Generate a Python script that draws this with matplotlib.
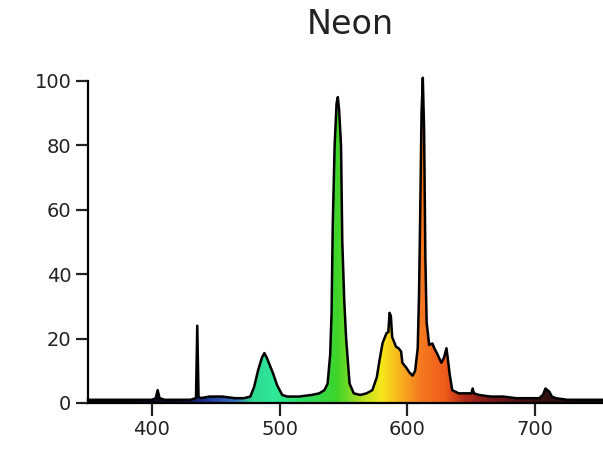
import numpy as np
import matplotlib
matplotlib.use("Agg")
from matplotlib import pyplot as plt
from matplotlib.colors import LinearSegmentedColormap

# spectrum (nm, relative intensity)
wavelength = [350, 360, 370, 380, 390, 400, 403, 404.5, 406, 410, 420, 430,
              434.5, 435.5, 436.5, 438, 445, 455, 465, 472, 477, 480, 483, 486,
              488, 490, 492, 495, 498, 502, 506, 515, 525, 531, 535, 537.5,
              539.5, 540.6, 541.5, 543, 544.5, 545.5, 546.5, 548, 549, 550.5,
              552, 554.7, 558, 563, 568, 572.5, 576, 578, 580.5, 583.6, 585,
              586, 587, 588, 591, 593, 595, 596, 599, 601.5, 604, 606, 608,
              609, 610, 611, 612, 613, 614, 615, 617, 619.5, 621, 623, 626.5,
              628.5, 630.5, 631.5, 633, 635, 640, 646, 650, 651, 652, 656, 665,
              675, 685, 695, 703, 706, 708, 709.5, 711, 713, 716, 725, 735,
              745, 755]
intensity = [1, 1, 1, 1, 1, 1, 1.5, 4, 1.5, 1, 1, 1,
             1.5, 24, 2, 1.5, 2, 2, 1.5, 1.5, 2, 5, 10, 14,
             15.5, 14, 12, 9, 5.5, 2.5, 2, 2, 2.5, 3, 4, 6,
             15, 28, 55, 80, 93, 95, 91, 80, 50, 32,
             20, 6, 3, 2.5, 3, 4, 8, 13, 18.6, 21.7, 22,
             28, 27, 20.5, 17.5, 17, 16, 12.5, 11, 9.5, 8.5, 10, 17,
             33, 60, 90, 101, 85, 45, 25, 18, 18.5, 17, 15.5, 12.5,
             14, 17, 14, 9, 4, 3, 3, 3, 4.5, 3, 2.5, 2,
             2, 1.5, 1.5, 1.5, 2.5, 4.5, 4, 3.5, 2, 1.5, 1, 1,
             1, 1]

# fill colour along wavelength
color_stops = [(350, "#000000"), (420, "#101030"), (440, "#1a2f8f"),
               (465, "#3a6fc0"), (478, "#30d890"), (495, "#2ee89a"),
               (520, "#30dd60"), (545, "#3ed42a"), (565, "#b8e020"),
               (580, "#f5e81a"), (595, "#f8b020"), (610, "#f57a20"),
               (630, "#f05a1a"), (645, "#b02a1a"), (665, "#7a1a1a"),
               (700, "#3a1010"), (755, "#101010")]

x_ticks = [400, 500, 600, 700]
y_ticks = [0, 20, 40, 60, 80, 100]

lo, hi = color_stops[0][0], color_stops[-1][0]
cmap = LinearSegmentedColormap.from_list(
    "spec", [((w - lo) / (hi - lo), c) for w, c in color_stops])

fig = plt.figure(figsize=(6.03, 4.53), dpi=100)
ax = fig.add_axes([88 / 603, 50 / 453, 1 - 88 / 603, 322 / 453])

poly = ax.fill_between(wavelength, intensity, 0, facecolor="none", edgecolor="none")
grad = np.linspace(0, 1, 512).reshape(1, -1)
img = ax.imshow(grad, cmap=cmap, extent=[lo, hi, 0, 105], aspect="auto",
                origin="lower", zorder=1)
img.set_clip_path(poly.get_paths()[0], transform=ax.transData)

ax.plot(wavelength, intensity, color="black", lw=1.8, zorder=3, clip_on=False)

ax.set_xlim(350, 753)
ax.set_ylim(0, 100)
ax.set_xticks(x_ticks)
ax.set_yticks(y_ticks)
for s in ["top", "right"]:
    ax.spines[s].set_visible(False)
for s in ["left", "bottom"]:
    ax.spines[s].set_linewidth(1.6)
ax.tick_params(length=9, width=1.6, labelsize=14, pad=3, colors="#222222")

fig.text(350 / 603, 1 - 24 / 453, "Neon", ha="center", va="center",
         fontsize=24, color="#222222")

fig.savefig("out.png", dpi=100)
